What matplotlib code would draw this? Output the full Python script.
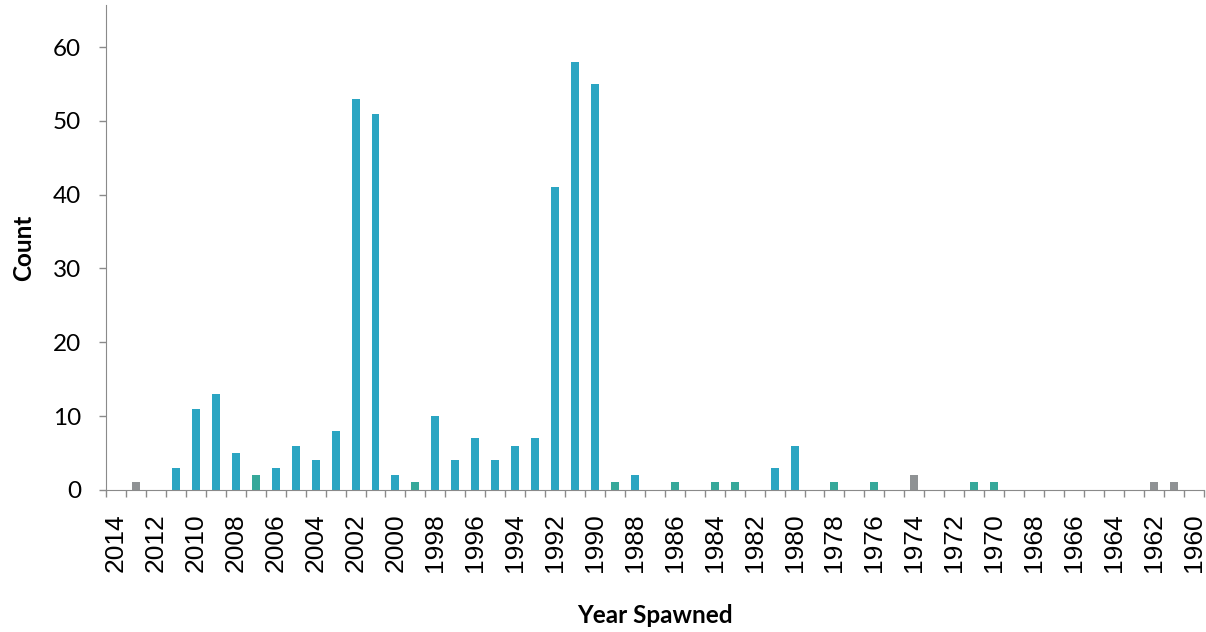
import matplotlib.pyplot as plt
import numpy as np

# Year spawned (reversed axis, 2014 -> 1960) and fish counts
years = list(range(2014, 1959, -1))
counts = [0, 1, 0, 3, 11, 13, 5, 2, 3, 6,
          4, 8, 53, 51, 2, 1, 10, 4, 7, 4,
          6, 7, 41, 58, 55, 1, 2, 0, 1, 0,
          1, 1, 0, 3, 6, 0, 1, 0, 1, 0,
          2, 0, 0, 1, 1, 0, 0, 0, 0, 0,
          0, 0, 1, 1, 0]
grey_years = [2013, 1974, 1962, 1961]
green_years = [2007, 1999, 1989, 1986, 1984, 1983, 1978, 1976, 1971, 1970]
tick_years = list(range(2014, 1959, -2))

teal = "#2ba5c2"
colors = []
for y in years:
    if y in grey_years:
        colors.append("#8f9294")
    elif y in green_years:
        colors.append("#36a89a")
    else:
        colors.append(teal)

fig = plt.figure(figsize=(12.06, 6.32), dpi=100)
ax = fig.add_axes([0.088, 0.225, 0.91, 0.767])

ax.bar(years, counts, width=0.4, color=colors)

ax.set_xlim(2014.5, 1959.5)
ax.set_ylim(0, 65.7)

# y axis
ax.set_yticks(np.arange(0, 61, 10))
ax.tick_params(axis="y", direction="out", length=5, width=1, color="#8a8a8a",
               pad=13, labelsize=17.5)
for lab in ax.get_yticklabels():
    lab.set_family("Lato")

# x axis: labels every 2 years, tick marks between categories
ax.set_xticks(tick_years)
ax.set_xticklabels([str(y) for y in tick_years], rotation=90, family="Liberation Sans")
ax.set_xticks(np.arange(2014.5, 1959, -1), minor=True)
ax.tick_params(axis="x", which="major", length=0, pad=17, labelsize=19)
ax.tick_params(axis="x", which="minor", direction="out", length=5, width=1, color="#8a8a8a")

for s in ["top", "right"]:
    ax.spines[s].set_visible(False)
ax.spines["left"].set_color("#8a8a8a")
ax.spines["bottom"].set_color("#8a8a8a")

ax.set_ylabel("Count", fontsize=17.5, fontweight="bold", family="Lato", labelpad=13)
ax.set_xlabel("Year Spawned", fontsize=17.5, fontweight="bold", family="Lato", labelpad=23)

fig.savefig("out.png", dpi=100)
